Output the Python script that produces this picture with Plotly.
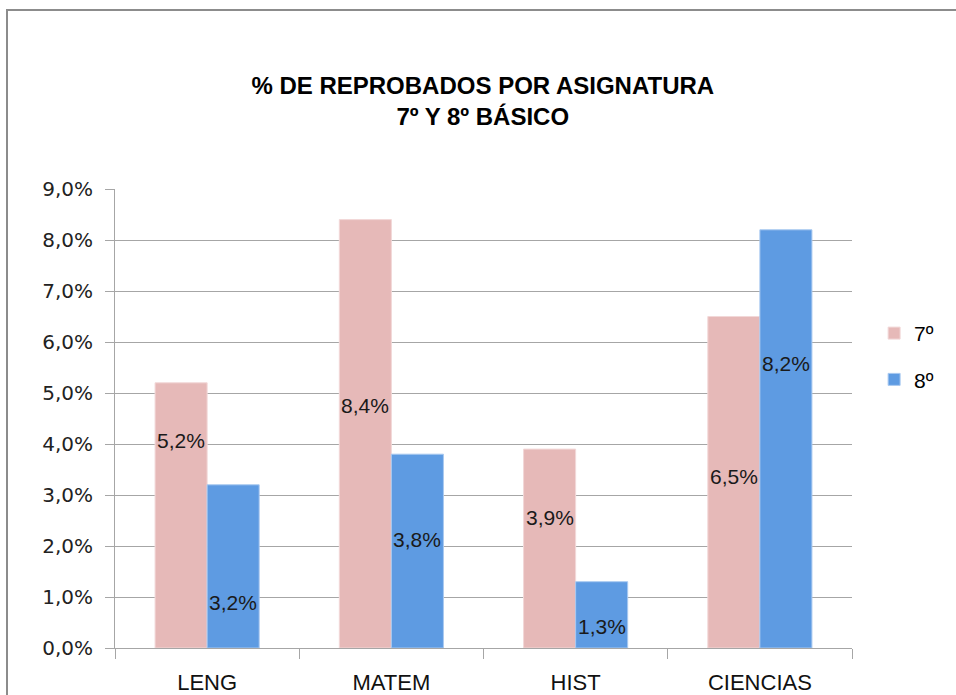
import plotly.graph_objects as go

categories = ["LENG", "MATEM", "HIST", "CIENCIAS"]
series_names = ["7º", "8º"]
values_7 = [0.052, 0.084, 0.039, 0.065]
values_8 = [0.032, 0.038, 0.013, 0.082]
y_ticks = [0.0, 0.01, 0.02, 0.03, 0.04, 0.05, 0.06, 0.07, 0.08, 0.09]

# label vertical placements
label_pos_7 = [0.0406, 0.0475, 0.0255, 0.0337]
label_pos_8 = [0.0090, 0.0212, 0.0043, 0.0557]

PINK = "#E6B9B8"
BLUE = "#5E9BE2"
GRID = "#A6A6A6"
SANS = "Liberation Sans, Arial, sans-serif"

fig = go.Figure()
fig.add_trace(go.Bar(x=categories, y=values_7, name=series_names[0],
                     marker=dict(color=PINK, line=dict(color="#F2D8D8", width=1)),
                     legendgroup="a"))
fig.add_trace(go.Bar(x=categories, y=values_8, name=series_names[1],
                     marker=dict(color=BLUE, line=dict(color="#A9C9F0", width=1)),
                     legendgroup="b"))

def fmt(v):
    return f"{v*100:.1f}%".replace(".", ",")

annotations = []
for vals, pos, shift in ((values_7, label_pos_7, -26), (values_8, label_pos_8, 26)):
    for c, v, p in zip(categories, vals, pos):
        annotations.append(dict(x=c, y=p, xref="x", yref="y", text=fmt(v),
                                showarrow=False, xshift=shift,
                                font=dict(family=SANS, size=21, color="#1a1a1a")))

fig.update_layout(
    width=956, height=695,
    margin=dict(l=115, r=104, t=189, b=47, autoexpand=False),
    paper_bgcolor="white", plot_bgcolor="white",
    separators=",.",
    barmode="group", bargap=0.435, bargroupgap=0.0,
    title=dict(text="<b>% DE REPROBADOS POR ASIGNATURA<br>7º Y 8º BÁSICO</b>",
               x=0.505, xanchor="center", y=1 - 94 / 695, yanchor="middle",
               font=dict(family=SANS, size=24, color="#000000")),
    legend=dict(x=1.03, y=0.73, xanchor="left", yanchor="top",
                font=dict(family=SANS, size=21, color="#000000"),
                tracegroupgap=16, itemwidth=30, bgcolor="rgba(0,0,0,0)"),
    annotations=annotations,
    shapes=[dict(type="rect", xref="paper", yref="paper",
                 x0=(7 - 115) / 737, x1=1.3, y0=-0.3, y1=(648 - 10) / 459,
                 line=dict(color="#8C8C8C", width=2), fillcolor="rgba(0,0,0,0)", layer="below")],
)
fig.update_yaxes(range=[0, 0.09], tickvals=y_ticks, tickformat=".1%",
                 showgrid=True, gridcolor=GRID, gridwidth=1,
                 showline=True, linecolor=GRID, linewidth=1,
                 ticks="outside", ticklen=9, tickcolor=GRID, ticklabelstandoff=8,
                 tickfont=dict(family="DejaVu Sans, Verdana, sans-serif", size=20, color="#222222"),
                 zeroline=False, automargin=False)
fig.update_xaxes(showline=True, linecolor=GRID, linewidth=1,
                 ticks="outside", ticklen=10, tickcolor=GRID, tickson="boundaries",
                 ticklabelstandoff=15, automargin=False,
                 tickfont=dict(family=SANS, size=22, color="#111111"))

fig.write_html("out.html", config={"displayModeBar": False},
               post_script="document.body.style.margin='0';")
